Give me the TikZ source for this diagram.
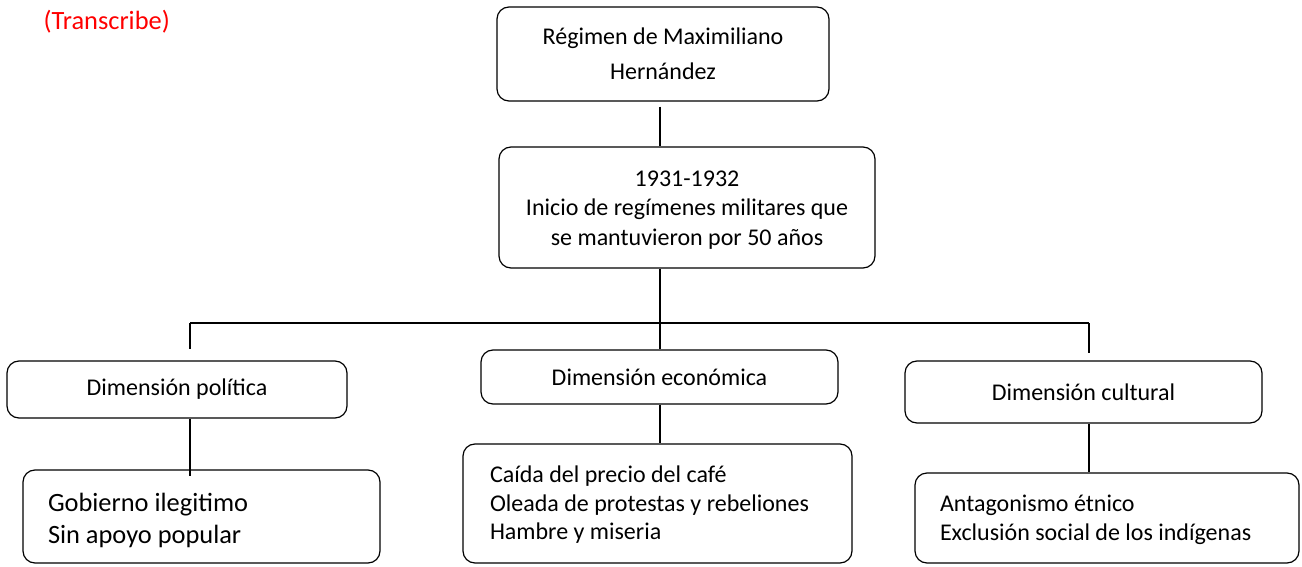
\documentclass[tikz,border=0pt]{standalone}
\usepackage{fontspec}
\setmainfont{Carlito}

\tikzset{
  box/.style={draw, rounded corners=6pt, inner sep=0pt, align=center,
    font=\fontsize{12}{14.4}\selectfont},
  list/.style={box, align=flush left, inner xsep=12.5pt, inner ysep=0pt},
  note/.style={text=red, inner sep=0pt, font=\fontsize{13.2}{15}\selectfont}
}

\begin{document}
\begin{tikzpicture}[x=0.5pt, y=-0.5pt, line width=0.6pt]
  \useasboundingbox (0,0) rectangle (1302,567);
  % Nodes
  \node[note, anchor=west] (transcribe) at (43,22) {(Transcribe)} ; %
  \node[box, minimum width=166pt, minimum height=47pt, font=\fontsize{12}{17.5}\selectfont] (regimen) at (663,54) {Régimen de Maximiliano\\Hernández} ; %
  \node[box, minimum width=188pt, minimum height=60.5pt, text height=40.5pt, text depth=3pt, font=\fontsize{12}{14.6}\selectfont] (inicio) at (687,207.5) {1931-1932\\Inicio de regímenes militares que\\se mantuvieron por 50 años} ; %
  \node[box, minimum width=170pt, minimum height=28.5pt] (politica) at (177,389.5) {Dimensión política} ; %
  \node[box, minimum width=178.5pt, minimum height=27pt] (economica) at (659.5,377) {Dimensión económica} ; %
  \node[box, minimum width=178.5pt, minimum height=31pt] (cultural) at (1083.5,392) {Dimensión cultural} ; %
  \node[list, text width=153.5pt, minimum height=46.5pt, text height=10pt, text depth=15.5pt, font=\fontsize{13.2}{16}\selectfont] (gobierno) at (201.5,516.5) {Gobierno ilegitimo\\Sin apoyo popular} ; %
  \node[list, inner xsep=13.5pt, text width=167.5pt, minimum height=59.5pt, text height=9pt, text depth=30.2pt, font=\fontsize{12}{14.4}\selectfont] (crisis) at (657.5,503.5) {Caída del precio del café\\Oleada de protestas y rebeliones\\Hambre y miseria} ; %
  \node[list, text width=167pt, minimum height=45pt, text height=9pt, text depth=16pt, font=\fontsize{12}{14.5}\selectfont] (exclusion) at (1107,518) {Antagonismo étnico\\Exclusión social de los indígenas} ; %
  % Branch points
  \coordinate (left) at (190,323) ; %
  \coordinate (mid) at (660,323) ; %
  \coordinate (right) at (1089,323) ; %
  % Edges
  \draw[shorten <=2.5pt] (mid |- regimen.south) -- (mid |- inicio.north) ; %
  \draw (mid |- inicio.south) -- (mid) ; %
  \draw (left) -- (right) ; %
  \draw[shorten >=5.5pt] (left) -- (left |- politica.north) ; %
  \draw (mid) -- (mid |- economica.north) ; %
  \draw[shorten >=3.5pt] (right) -- (right |- cultural.north) ; %
  \draw[shorten >=-3.5pt] (left |- politica.south) -- (left |- gobierno.north) ; %
  \draw (mid |- economica.south) -- (mid |- crisis.north) ; %
  \draw (right |- cultural.south) -- (right |- exclusion.north) ; %
\end{tikzpicture}
\end{document}
